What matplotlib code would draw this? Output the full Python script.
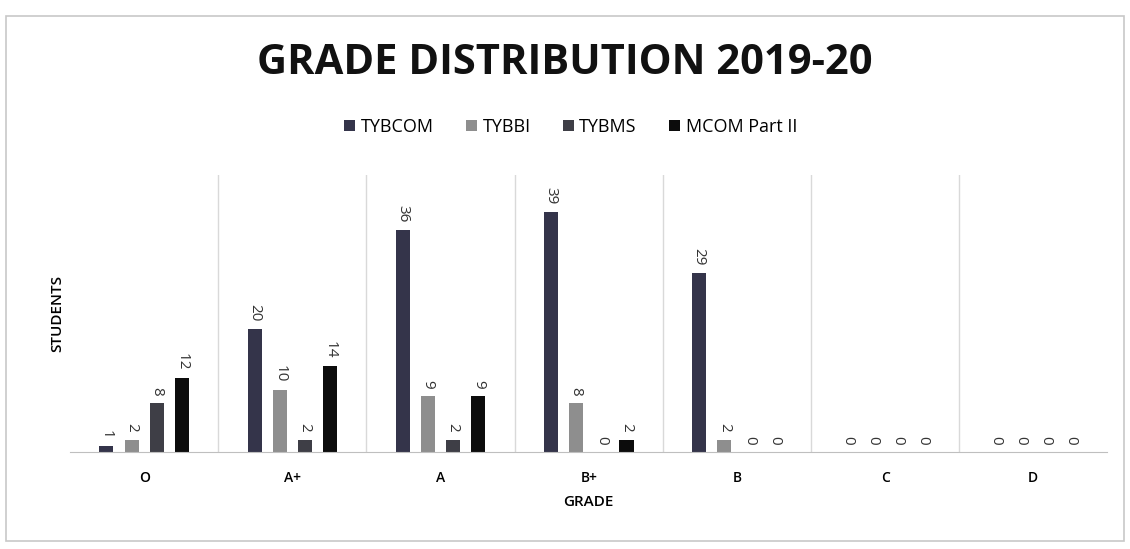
import numpy as np
import matplotlib.pyplot as plt
from matplotlib.patches import Rectangle

grades = ["O", "A+", "A", "B+", "B", "C", "D"]
tybcom = [1, 20, 36, 39, 29, 0, 0]
tybbi = [2, 10, 9, 8, 2, 0, 0]
tybms = [8, 2, 2, 0, 0, 0, 0]
mcom = [12, 14, 9, 2, 0, 0, 0]
series = ["TYBCOM", "TYBBI", "TYBMS", "MCOM Part II"]
colors = ["#34344a", "#8e8e8e", "#3e3e46", "#0c0c0c"]

plt.rcParams['font.family'] = ['Open Sans', 'DejaVu Sans']

fig = plt.figure(figsize=(11.3, 5.49), dpi=100)
fig.patches.append(Rectangle((0.005, 0.015), 0.99, 0.955, transform=fig.transFigure,
                             fill=False, edgecolor="#c8c8c8", linewidth=1.2))
ax = fig.add_axes([0.062, 0.177, 0.918, 0.505])

x = np.arange(len(grades))
w = 0.095
step = 0.17
for i, (name, vals, c) in enumerate(zip(series, [tybcom, tybbi, tybms, mcom], colors)):
    pos = x + (i - 1.5) * step
    ax.bar(pos, vals, width=w, color=c, label=name)
    for p, v in zip(pos, vals):
        ax.text(p, v + 1.2, str(v), rotation=-90, ha="center", va="bottom",
                fontsize=11, color="#333333")

ax.set_xlim(-0.5, len(grades) - 0.5)
ax.set_ylim(0, 45)
ax.set_yticks([])
ax.set_xticks(x)
ax.set_xticklabels(grades, fontsize=10, fontweight="semibold")
ax.tick_params(axis="x", length=0, pad=14)
for b in np.arange(0.5, len(grades) - 0.5, 1):
    ax.axvline(b, color="#d9d9d9", linewidth=1)
for s in ["top", "right", "left"]:
    ax.spines[s].set_visible(False)
ax.spines["bottom"].set_color("#bfbfbf")

ax.set_xlabel("GRADE", fontsize=11, labelpad=7, fontweight="semibold")
ax.set_ylabel("STUDENTS", fontsize=11, labelpad=4, fontweight="semibold")

fig.text(0.5, 0.885, "GRADE DISTRIBUTION 2019-20", ha="center", va="center",
         fontsize=30, fontweight="bold", color="#111111")
fig.legend(loc="center", bbox_to_anchor=(0.505, 0.769), ncol=4, frameon=False,
           fontsize=13, handlelength=0.6, handleheight=0.6, columnspacing=1.8,
           handletextpad=0.3)

fig.savefig("out.png", dpi=100)
